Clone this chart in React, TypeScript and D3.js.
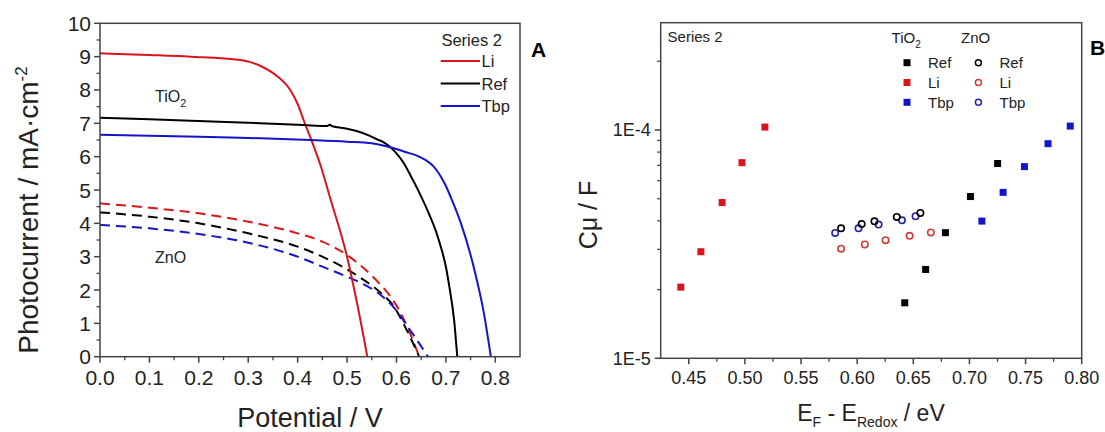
import React from "react";
import * as d3 from "d3";

// ---------- Panel A data (Potential / V vs Photocurrent / mA cm-2) ----------
const tiLiV = [0, 0.1, 0.183, 0.284, 0.325, 0.358, 0.385, 0.4, 0.412, 0.429, 0.446, 0.467, 0.5, 0.521, 0.541];
const tiLiJ = [9.1, 9.05, 9.0, 8.9, 8.72, 8.42, 8.0, 7.58, 7.1, 6.45, 5.75, 4.7, 3.0, 1.55, 0];
const tiRefV = [0, 0.1, 0.2, 0.3, 0.412, 0.46, 0.465, 0.47, 0.5, 0.521, 0.545, 0.561, 0.575, 0.588, 0.6, 0.615, 0.629, 0.645, 0.663, 0.68, 0.69, 0.7, 0.707, 0.717, 0.723];
const tiRefJ = [7.17, 7.12, 7.07, 7.02, 6.95, 6.92, 6.96, 6.91, 6.84, 6.76, 6.63, 6.52, 6.42, 6.28, 6.1, 5.8, 5.42, 4.96, 4.38, 3.76, 3.28, 2.7, 2.1, 1.05, 0];
const tiTbpV = [0, 0.1, 0.2, 0.284, 0.426, 0.5, 0.55, 0.575, 0.6, 0.62, 0.64, 0.65, 0.66, 0.675, 0.69, 0.7, 0.71, 0.73, 0.757, 0.777, 0.791];
const tiTbpJ = [6.66, 6.63, 6.6, 6.57, 6.5, 6.45, 6.4, 6.33, 6.23, 6.13, 6.04, 5.97, 5.89, 5.71, 5.4, 5.12, 4.78, 4.02, 2.65, 1.3, 0];

const znLiV = [0, 0.1, 0.2, 0.3, 0.4, 0.45, 0.5, 0.534, 0.56, 0.588, 0.609, 0.629, 0.646];
const znLiJ = [4.6, 4.47, 4.3, 4.05, 3.7, 3.45, 3.05, 2.65, 2.28, 1.8, 1.3, 0.65, 0];
const znRefV = [0, 0.1, 0.2, 0.3, 0.4, 0.45, 0.5, 0.534, 0.568, 0.595, 0.619, 0.646];
const znRefJ = [4.33, 4.2, 4.0, 3.7, 3.3, 3.0, 2.62, 2.3, 1.92, 1.5, 0.85, 0];
const znTbpV = [0, 0.1, 0.2, 0.3, 0.4, 0.45, 0.5, 0.534, 0.568, 0.595, 0.622, 0.646, 0.664];
const znTbpJ = [3.95, 3.85, 3.68, 3.42, 3.0, 2.7, 2.4, 2.17, 1.85, 1.47, 0.92, 0.4, 0];

const xTicksA = [0, 0.1, 0.2, 0.3, 0.4, 0.5, 0.6, 0.7, 0.8];
const xMinorA = [0.05, 0.15, 0.25, 0.35, 0.45, 0.55, 0.65, 0.75];
const yTicksA = [0, 1, 2, 3, 4, 5, 6, 7, 8, 9, 10];
const yMinorA = [0.5, 1.5, 2.5, 3.5, 4.5, 5.5, 6.5, 7.5, 8.5, 9.5];
const legendA = ["Li", "Ref", "Tbp"];

// ---------- Panel B data (EF - ERedox / eV vs Cmu / F) ----------
const tiRefX = [0.6424, 0.661, 0.6786, 0.7009, 0.7251];
const tiRefC = [1.75e-5, 2.45e-5, 3.55e-5, 5.11e-5, 7.13e-5];
const tiLiX = [0.4429, 0.4608, 0.4797, 0.4974, 0.5178];
const tiLiC = [2.05e-5, 2.93e-5, 4.81e-5, 7.19e-5, 1.03e-4];
const tiTbpX = [0.7111, 0.73, 0.749, 0.77, 0.7898];
const tiTbpC = [3.99e-5, 5.33e-5, 6.91e-5, 8.71e-5, 1.04e-4];
const znRefX = [0.5857, 0.604, 0.6154, 0.6353, 0.6563];
const znRefC = [3.71e-5, 3.87e-5, 3.98e-5, 4.16e-5, 4.33e-5];
const znLiX = [0.5857, 0.6068, 0.6253, 0.6467, 0.6656];
const znLiC = [3.02e-5, 3.15e-5, 3.29e-5, 3.44e-5, 3.56e-5];
const znTbpX = [0.5804, 0.6012, 0.6191, 0.6399, 0.652];
const znTbpC = [3.54e-5, 3.71e-5, 3.85e-5, 4.02e-5, 4.19e-5];

const xTicksB = [0.45, 0.5, 0.55, 0.6, 0.65, 0.7, 0.75, 0.8];
const xMinorB = [0.475, 0.525, 0.575, 0.625, 0.675, 0.725, 0.775];
const yTicksB = [1e-5, 1e-4];
const yTickLabelsB = ["1E-5", "1E-4"];
const yMinorB = [2e-5, 3e-5, 4e-5, 5e-5, 6e-5, 7e-5, 8e-5, 9e-5, 2e-4];
const legendB = ["Ref", "Li", "Tbp"];

const RED = "#d8141c";
const BLACK = "#000000";
const BLUE = "#1414c8";
const CIRC_RED = "#d23a36";
const CIRC_BLUE = "#2424b0";
const AXIS = "#444444";
const FONT = "'Liberation Sans', Arial, Helvetica, sans-serif";

export default function App() {
  const xA = d3.scaleLinear().domain([0, 0.85]).range([100, 520]);
  const yA = d3.scaleLinear().domain([0, 10]).range([356.7, 23.3]);
  const lineA = (v: number[], j: number[]) =>
    d3
      .line<number>()
      .x((_, i) => xA(v[i]))
      .y((_, i) => yA(j[i]))
      .curve(d3.curveMonotoneX)(v) || "";

  const xB = d3.scaleLinear().domain([0.425, 0.8]).range([660.7, 1081.7]);
  const yB = d3.scaleLog().domain([1e-5, 2.95e-4]).range([358.3, 22.7]);

  const solidA = [
    { v: tiLiV, j: tiLiJ, c: RED },
    { v: tiRefV, j: tiRefJ, c: BLACK },
    { v: tiTbpV, j: tiTbpJ, c: BLUE },
  ];
  const dashedA = [
    { v: znLiV, j: znLiJ, c: RED },
    { v: znRefV, j: znRefJ, c: BLACK },
    { v: znTbpV, j: znTbpJ, c: BLUE },
  ];
  const legendColorsA = [RED, BLACK, BLUE];

  const squaresB = [
    { x: tiRefX, y: tiRefC, c: BLACK },
    { x: tiLiX, y: tiLiC, c: RED },
    { x: tiTbpX, y: tiTbpC, c: BLUE },
  ];
  const circlesB = [
    { x: znTbpX, y: znTbpC, c: CIRC_BLUE },
    { x: znRefX, y: znRefC, c: BLACK },
    { x: znLiX, y: znLiC, c: CIRC_RED },
  ];
  const legendSqB = [BLACK, RED, BLUE];
  const legendCircB = [BLACK, CIRC_RED, CIRC_BLUE];

  const [ax0, ax1] = xA.range();
  const [ay0, ay1] = yA.range();
  const [bx0, bx1] = xB.range();
  const [by0, by1] = yB.range();

  return (
    <svg
      width={1105}
      height={432}
      style={{ position: "absolute", left: 0, top: 0, background: "#fff" }}
      fontFamily={FONT}
    >
      <rect x={0} y={0} width={1105} height={432} fill="#fff" />

      {/* ================= PANEL A ================= */}
      {dashedA.map((s, i) => (
        <path key={"da" + i} d={lineA(s.v, s.j)} fill="none" stroke={s.c} strokeWidth={2} strokeDasharray="10,6" />
      ))}
      {solidA.map((s, i) => (
        <path key={"sa" + i} d={lineA(s.v, s.j)} fill="none" stroke={s.c} strokeWidth={2} />
      ))}

      <rect x={ax0} y={ay1} width={ax1 - ax0} height={ay0 - ay1} fill="none" stroke={AXIS} strokeWidth={1.5} />
      {xTicksA.map((t) => (
        <g key={"xat" + t}>
          <line x1={xA(t)} x2={xA(t)} y1={ay0} y2={ay0 + 6} stroke={AXIS} strokeWidth={1.5} />
          <text x={xA(t)} y={ay0 + 28.5} fontSize={21} textAnchor="middle" fill="#222">
            {t.toFixed(1)}
          </text>
        </g>
      ))}
      {xMinorA.map((t) => (
        <line key={"xam" + t} x1={xA(t)} x2={xA(t)} y1={ay0} y2={ay0 + 3.5} stroke={AXIS} strokeWidth={1.3} />
      ))}
      {yTicksA.map((t) => (
        <g key={"yat" + t}>
          <line x1={ax0 - 6} x2={ax0} y1={yA(t)} y2={yA(t)} stroke={AXIS} strokeWidth={1.5} />
          <text x={ax0 - 9} y={yA(t) + 7.5} fontSize={21} textAnchor="end" fill="#222">
            {t}
          </text>
        </g>
      ))}
      {yMinorA.map((t) => (
        <line key={"yam" + t} x1={ax0 - 3.5} x2={ax0} y1={yA(t)} y2={yA(t)} stroke={AXIS} strokeWidth={1.3} />
      ))}

      <text x={310} y={427} fontSize={27} textAnchor="middle" fill="#222">
        Potential / V
      </text>
      <text transform="translate(38,210) rotate(-90)" fontSize={28} textAnchor="middle" fill="#222">
        Photocurrent / mA·cm
        <tspan dy={-11} fontSize={17}>-2</tspan>
      </text>

      <text x={155} y={102} fontSize={16} fill="#222">
        TiO<tspan dy={5} fontSize={11}>2</tspan>
      </text>
      <text x={155} y={263} fontSize={16} fill="#222">
        ZnO
      </text>

      <text x={471.7} y={46} fontSize={16.5} textAnchor="middle" fill="#222">
        Series 2
      </text>
      {legendA.map((name, i) => (
        <g key={"la" + name}>
          <line x1={440.7} x2={480} y1={61 + i * 22.5} y2={61 + i * 22.5} stroke={legendColorsA[i]} strokeWidth={2} />
          <text x={481.5} y={61 + i * 22.5 + 6} fontSize={16.5} fill="#222">
            {name}
          </text>
        </g>
      ))}
      <text x={531} y={57} fontSize={21} fontWeight="bold" fill="#000">
        A
      </text>

      {/* ================= PANEL B ================= */}
      {squaresB.map((s, si) =>
        s.x.map((xv, i) => (
          <rect key={"sq" + si + "_" + i} x={xB(xv) - 3.5} y={yB(s.y[i]) - 3.5} width={7} height={7} fill={s.c} />
        ))
      )}
      {circlesB.map((s, si) =>
        s.x.map((xv, i) => (
          <circle key={"ci" + si + "_" + i} cx={xB(xv)} cy={yB(s.y[i])} r={3.2} fill="none" stroke={s.c} strokeWidth={1.6} />
        ))
      )}

      <rect x={bx0} y={by1} width={bx1 - bx0} height={by0 - by1} fill="none" stroke={AXIS} strokeWidth={1.5} />
      {xTicksB.map((t) => (
        <g key={"xbt" + t}>
          <line x1={xB(t)} x2={xB(t)} y1={by0} y2={by0 + 6} stroke={AXIS} strokeWidth={1.5} />
          <text x={xB(t)} y={by0 + 26} fontSize={18} textAnchor="middle" fill="#222">
            {t.toFixed(2)}
          </text>
        </g>
      ))}
      {xMinorB.map((t) => (
        <line key={"xbm" + t} x1={xB(t)} x2={xB(t)} y1={by0} y2={by0 + 3.5} stroke={AXIS} strokeWidth={1.3} />
      ))}
      {yTicksB.map((t, i) => (
        <g key={"ybt" + t}>
          <line x1={bx0 - 6} x2={bx0} y1={yB(t)} y2={yB(t)} stroke={AXIS} strokeWidth={1.5} />
          <text x={bx0 - 10} y={yB(t) + 6.5} fontSize={18} textAnchor="end" fill="#222">
            {yTickLabelsB[i]}
          </text>
        </g>
      ))}
      {yMinorB.map((t) => (
        <line key={"ybm" + t} x1={bx0 - 3.5} x2={bx0} y1={yB(t)} y2={yB(t)} stroke={AXIS} strokeWidth={1.3} />
      ))}

      <text x={871} y={421} fontSize={23} textAnchor="middle" fill="#222">
        E<tspan dy={6} fontSize={14}>F</tspan>
        <tspan dy={-6}> - E</tspan>
        <tspan dy={6} fontSize={14}>Redox</tspan>
        <tspan dy={-6}> / eV</tspan>
      </text>
      <text transform="translate(597,215) rotate(-90)" fontSize={25} textAnchor="middle" fill="#222">
        Cμ / F
      </text>

      <text x={667.6} y={42} fontSize={15} fill="#222">
        Series 2
      </text>
      <text x={891.6} y={43} fontSize={15} fill="#222">
        TiO<tspan dy={5} fontSize={10}>2</tspan>
      </text>
      <text x={961} y={43} fontSize={15} fill="#222">
        ZnO
      </text>
      {legendB.map((name, i) => {
        const cy = 62.7 + i * 19.8;
        return (
          <g key={"lb" + name}>
            <rect x={907 - 3.5} y={cy - 3.5} width={7} height={7} fill={legendSqB[i]} />
            <text x={928} y={cy + 5.5} fontSize={15} fill="#222">
              {name}
            </text>
            <circle cx={978.4} cy={cy} r={3} fill="none" stroke={legendCircB[i]} strokeWidth={1.5} />
            <text x={999.5} y={cy + 5.5} fontSize={15} fill="#222">
              {name}
            </text>
          </g>
        );
      })}
      <text x={1090} y={55} fontSize={21} fontWeight="bold" fill="#000">
        B
      </text>
    </svg>
  );
}
